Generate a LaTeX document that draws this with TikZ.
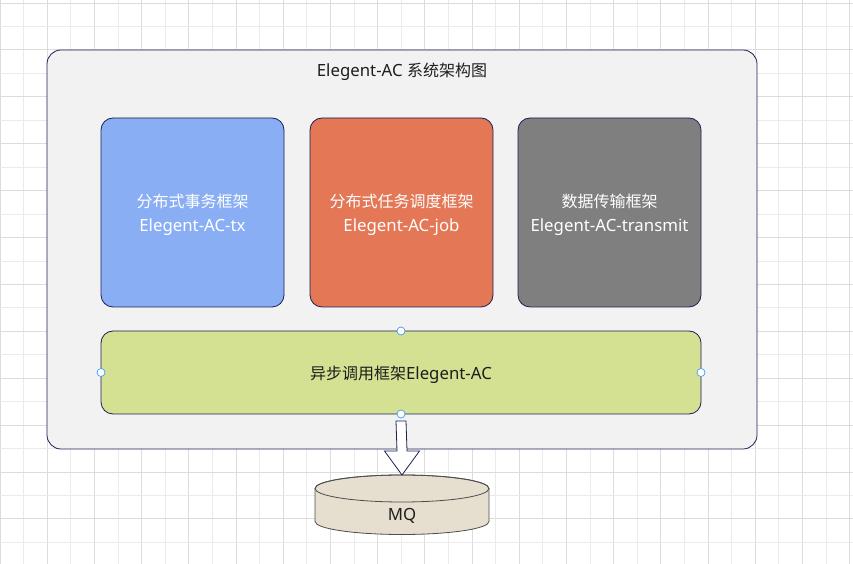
\documentclass[tikz,border=0pt]{standalone}
\usepackage{fontspec}
\setmainfont{Noto Sans}[Scale=1.05]
\newfontfamily\cjk{Noto Sans CJK SC}
\usetikzlibrary{calc}
\definecolor{gridlight}{HTML}{EBEBEB}
\definecolor{griddark}{HTML}{DCDCDC}
\definecolor{navy}{HTML}{1A1F55}
\definecolor{outerfill}{HTML}{F2F2F2}
\definecolor{bluefill}{HTML}{89AEF4}
\definecolor{orangefill}{HTML}{E37756}
\definecolor{grayfill}{HTML}{7F7F7F}
\definecolor{greenfill}{HTML}{D4E092}
\definecolor{mqfill}{HTML}{E6DFD0}
\definecolor{handleblue}{HTML}{3D9BFF}
\definecolor{textdark}{HTML}{1E1E1E}
\tikzset{
  panel/.style={draw=navy, line width=0.8pt, rounded corners=12pt, inner sep=0pt, outer sep=0pt},
  paneltext/.style={inner sep=0pt, align=center, font=\fontsize{16}{24}\selectfont},
  handle/.style={circle, draw=handleblue, fill=white, line width=0.7pt, minimum size=8pt, inner sep=0pt},
}
\begin{document}
\begin{tikzpicture}[x=1pt,y=1pt]
\useasboundingbox (0,0) rectangle (853,564);
\fill[white] (0,0) rectangle (853,564);
% grid
\foreach \k in {0,...,36}{
  \pgfmathsetmacro{\xx}{23.6*\k}
  \pgfmathparse{int(mod(\k,2))}
  \ifnum\pgfmathresult=0
    \draw[griddark, line width=0.8pt] (\xx,0) -- (\xx,564);
  \else
    \draw[gridlight, line width=0.8pt] (\xx,0) -- (\xx,564);
  \fi
}
\foreach \k in {0,...,24}{
  \pgfmathsetmacro{\yy}{561-23.45*\k}
  \pgfmathparse{int(mod(\k,2))}
  \ifnum\pgfmathresult=0
    \draw[griddark, line width=0.8pt] (0,\yy) -- (853,\yy);
  \else
    \draw[gridlight, line width=0.8pt] (0,\yy) -- (853,\yy);
  \fi
}
% outer container
\node[panel, fill=outerfill, rounded corners=14pt, minimum width=710pt, minimum height=399pt] (outer) at (402,314.5) {};
\node[paneltext, text=textdark] (title) at (402,492.5) {Elegent-AC {\cjk 系统架构图}};
% three modules
\node[panel, fill=bluefill, minimum width=183pt, minimum height=189pt] (tx) at (192.5,351.5) {};
\node[paneltext, text=white] (txl) at ($(tx)+(0,-2.5)$) {{\cjk 分布式事务框架}\\Elegent-AC-tx};
\node[panel, fill=orangefill, minimum width=183pt, minimum height=189pt] (job) at (401.5,351.5) {};
\node[paneltext, text=white] (jobl) at ($(job)+(0,-2.5)$) {{\cjk 分布式任务调度框架}\\Elegent-AC-job};
\node[panel, fill=grayfill, minimum width=183pt, minimum height=189pt] (transmit) at (609.5,351.5) {};
\node[paneltext, text=white] (transmitl) at ($(transmit)+(0,-2.5)$) {{\cjk 数据传输框架}\\Elegent-AC-transmit};
% async base
\node[panel, fill=greenfill, minimum width=600pt, minimum height=83pt] (async) at (401,191.5) {};
\node[paneltext, text=textdark] (asyncl) at ($(async)+(0,-2.5)$) {{\cjk 异步调用框架}Elegent-AC};
% MQ cylinder
\coordinate (mqc) at (402,48);
\coordinate (cyltop) at ($(mqc)+(0,27.5)$);
\coordinate (cylbot) at ($(mqc)+(0,-5.5)$);
\filldraw[fill=mqfill, draw=black!70, line width=0.8pt]
  ($(cyltop)+(-87,0)$) -- ($(cylbot)+(-87,0)$) arc[start angle=180, end angle=360, x radius=87pt, y radius=13pt]
  -- ($(cyltop)+(87,0)$) arc[start angle=0, end angle=180, x radius=87pt, y radius=13.5pt] -- cycle;
\draw[black!70, line width=0.8pt] (cyltop) ellipse[x radius=87pt, y radius=13.5pt];
\node[paneltext, text=textdark] (mq) at (mqc) {MQ};
% block arrow from async to MQ
\coordinate (atop) at ($(async.south)+(0,-7)$);
\coordinate (atip) at ($(cyltop)+(0,13.5)$);
\filldraw[fill=white, draw=navy, line width=0.8pt]
  ($(atop)+(-5,0)$) -- ($(atop)+(5,0)$) -- ($(atip)+(5,24)$) -- ($(atip)+(17.5,24)$) -- (atip)
  -- ($(atip)+(-17.5,24)$) -- ($(atip)+(-5,24)$) -- cycle;
% selection handles
\node[handle] (h1) at (async.north) {};
\node[handle] (h2) at (async.west) {};
\node[handle] (h3) at (async.east) {};
\node[handle] (h4) at (async.south) {};
\end{tikzpicture}
\end{document}
